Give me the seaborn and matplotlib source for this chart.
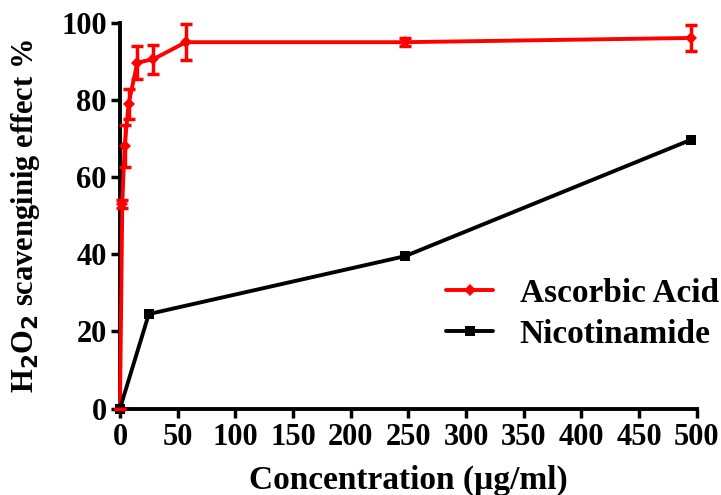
import pandas as pd
import numpy as np
import seaborn as sns
from matplotlib import pyplot as plt

# values
ascorbic_conc = [0, 2, 4, 7.5, 15, 29, 57, 247, 495]
ascorbic_effect = [0, 53, 68, 79, 89.7, 90.6, 95.0, 95.0, 96.1]
ascorbic_err = [0, 1.0, 5.4, 3.8, 4.2, 3.8, 4.7, 1.0, 3.4]

nicotinamide_conc = [0, 25, 247, 495]
nicotinamide_effect = [0, 24.5, 39.5, 69.7]

x_ticks = [0, 50, 100, 150, 200, 250, 300, 350, 400, 450, 500]
y_ticks = [0, 20, 40, 60, 80, 100]

df = pd.concat([
    pd.DataFrame({'conc': ascorbic_conc, 'effect': ascorbic_effect, 'compound': 'Ascorbic Acid'}),
    pd.DataFrame({'conc': nicotinamide_conc, 'effect': nicotinamide_effect, 'compound': 'Nicotinamide'}),
])

sns.set_style('ticks')
plt.rcParams['font.family'] = ['Liberation Serif', 'DejaVu Serif']
plt.rcParams['font.weight'] = 'bold'
plt.rcParams['mathtext.default'] = 'bf'
plt.rcParams['text.color'] = 'black'
plt.rcParams['axes.labelcolor'] = 'black'
plt.rcParams['xtick.color'] = 'black'
plt.rcParams['ytick.color'] = 'black'

fig = plt.figure(figsize=(7.21, 4.95), dpi=100)
ax = fig.add_axes([0.1664, 0.1747, 0.800, 0.779])

palette = {'Ascorbic Acid': '#ff0000', 'Nicotinamide': '#000000'}
markers = {'Ascorbic Acid': 'D', 'Nicotinamide': 's'}

sns.lineplot(data=df, x='conc', y='effect', hue='compound', style='compound',
             palette=palette, markers=markers, dashes=False, linewidth=2.8,
             markersize=6.5, markeredgewidth=0, ax=ax, clip_on=False, zorder=3)

ax.errorbar(ascorbic_conc, ascorbic_effect, yerr=ascorbic_err, fmt='none',
            ecolor='#ff0000', elinewidth=2.5, capsize=4, capthick=2.5,
            clip_on=False, zorder=3)

ax.set_xlim(0, 500)
ax.set_ylim(0, 100)
ax.set_xticks(x_ticks)
ax.set_yticks(y_ticks)
ax.tick_params(axis='both', direction='out', length=6.5, width=2.5, labelsize=22,
               colors='black')
ax.tick_params(axis='x', pad=4)
ax.tick_params(axis='y', pad=3)
for lab in ax.get_xticklabels() + ax.get_yticklabels():
    lab.set_fontweight('bold')

sns.despine(ax=ax)
for side in ['left', 'bottom']:
    ax.spines[side].set_linewidth(2.8)
    ax.spines[side].set_color('black')

ax.set_xlabel('Concentration (µg/ml)', fontsize=24, fontweight='bold', labelpad=9)
ax.set_ylabel('H$_2$O$_2$ scavenginig effect %', fontsize=22,
              fontweight='bold', labelpad=14)

ax.legend(title=None, frameon=False, loc='lower right', bbox_to_anchor=(1.09, 0.075),
          prop={'size': 24, 'weight': 'bold'}, handlelength=1.4, handletextpad=0.8,
          labelspacing=0.3)

fig.savefig('out.png', dpi=100)
